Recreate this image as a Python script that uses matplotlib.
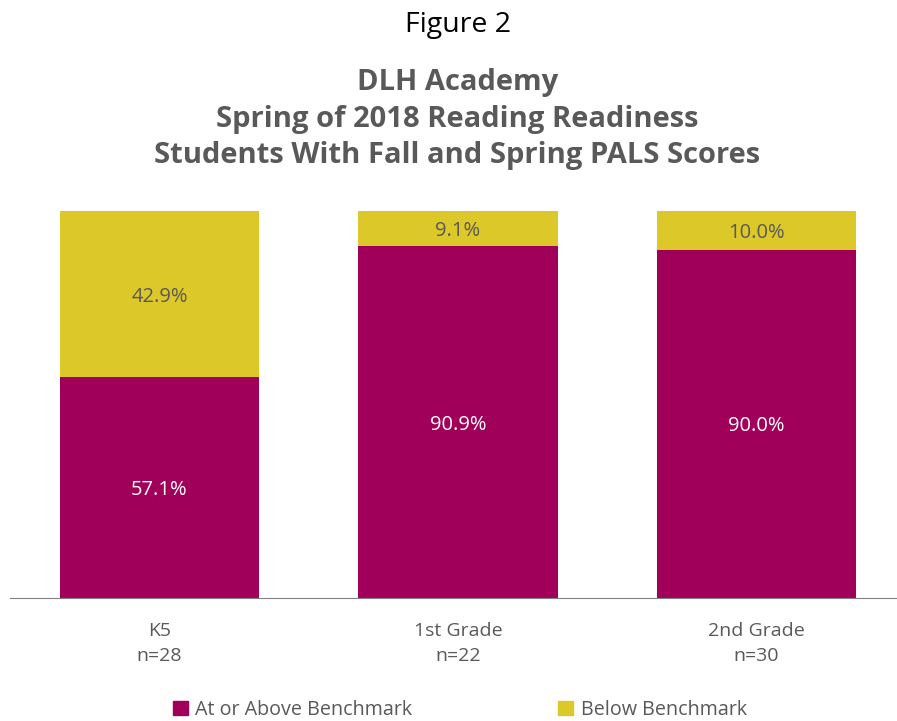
import matplotlib
matplotlib.use("Agg")
import matplotlib.pyplot as plt
from matplotlib.patches import Patch

categories = ["K5\nn=28", "1st Grade\nn=22", "2nd Grade\nn=30"]
at_or_above = [57.1, 90.9, 90.0]
below = [42.9, 9.1, 10.0]
series_names = ["At or Above Benchmark", "Below Benchmark"]

MAG = "#A0005A"
YEL = "#DCC828"
GRAY = "#595959"
plt.rcParams['font.family'] = ['Open Sans', 'DejaVu Sans']

W, H = 897, 721
fig = plt.figure(figsize=(W/100, H/100), dpi=100)
left_px, right_px, top_px, bot_px = 10, 897, 211, 598
ax = fig.add_axes([left_px/W, 1-bot_px/H, (right_px-left_px)/W, (bot_px-top_px)/H])

x = list(range(len(categories)))
unit = 298.5
ax.set_xlim(-(159.5-left_px)/unit, (right_px-159.5)/unit)
ax.set_ylim(0, 100)
ax.bar(x, at_or_above, width=0.667, color=MAG)
ax.bar(x, below, bottom=at_or_above, width=0.667, color=YEL)

for i in x:
    ax.text(i, at_or_above[i]/2, f"{at_or_above[i]:.1f}%", ha="center", va="center_baseline", color="white", fontsize=14.5)
    ax.text(i, at_or_above[i] + below[i]/2, f"{below[i]:.1f}%", ha="center", va="center_baseline", color=GRAY, fontsize=14.5)

for s in ["top", "right", "left"]:
    ax.spines[s].set_visible(False)
ax.spines["bottom"].set_color("#808080")
ax.set_yticks([])
ax.set_xticks(x)
ax.set_xticklabels(categories, fontsize=14, color=GRAY, linespacing=1.55)
ax.tick_params(axis="x", length=0, pad=17)

fig.text(458/W, 1-25/H, "Figure 2", ha="center", va="center", fontsize=20.5, color="black")
fig.text(457.5/W, 1-119/H, "DLH Academy\nSpring of 2018 Reading Readiness\nStudents With Fall and Spring PALS Scores",
         ha="center", va="center", fontsize=21, fontweight="bold", color=GRAY, linespacing=1.36)

handles = [Patch(color=MAG, label=series_names[0]), Patch(color=YEL, label=series_names[1])]
fig.legend(handles=handles, loc="center", bbox_to_anchor=(460/W, 1-710/H), ncol=2, frameon=False,
           fontsize=14.2, handlelength=0.75, handleheight=0.75, handletextpad=0.4, columnspacing=7.4,
           labelcolor=GRAY)

fig.savefig("out.png", dpi=100)
